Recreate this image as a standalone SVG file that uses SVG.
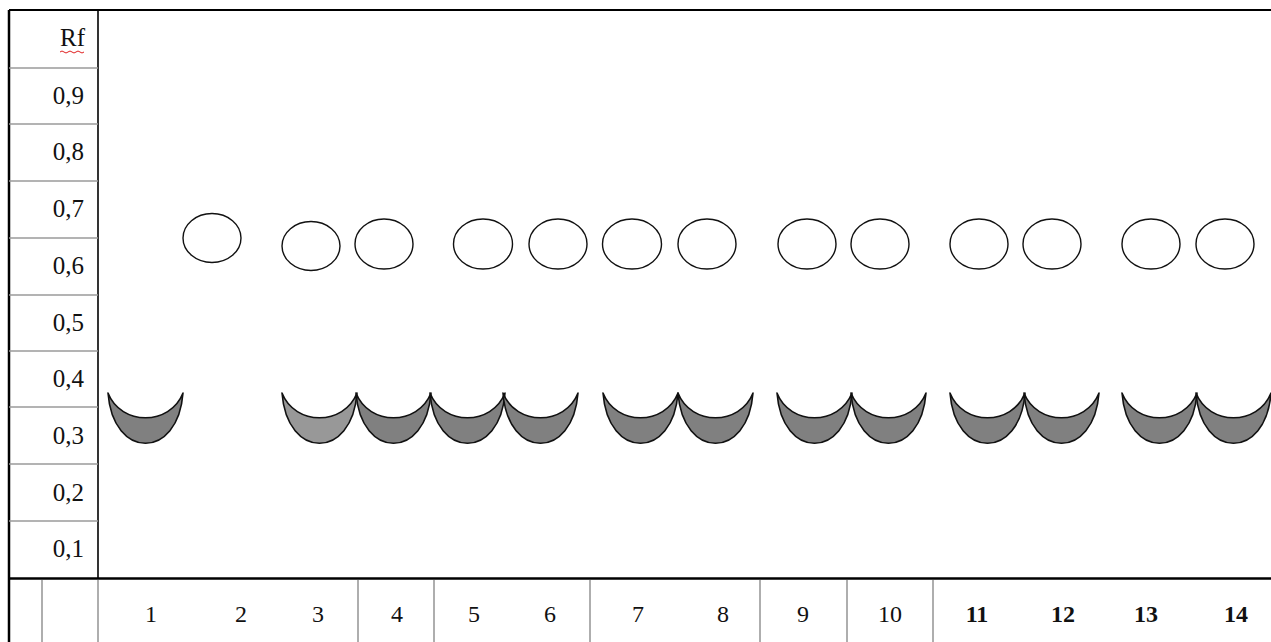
<svg xmlns="http://www.w3.org/2000/svg" width="1271" height="642" viewBox="0 0 1271 642">
<style>
.bk{stroke:#000;fill:none}
.gr{stroke:#9a9a9a;stroke-width:1.6;fill:none}
.lab{font-family:"Liberation Serif","Times New Roman",serif;font-size:25px;fill:#111}
.num{font-family:"Liberation Serif","Times New Roman",serif;font-size:24px;fill:#111;text-anchor:middle}
.b{font-weight:bold}
.spot{fill:#fff;stroke:#111;stroke-width:1.4}
.cr{fill:#808080;stroke:#111;stroke-width:1.6;stroke-linejoin:round}
</style>
<defs>
<path id="cres" d="M0,0 C5,67 70,67 75,0 C62,33 13,33 0,0 Z"/>
</defs>
<rect width="1271" height="642" fill="#fff"/>
<g id="grid">
<line class="bk" x1="9" y1="10" x2="1271" y2="10" stroke-width="2"/>
<line class="bk" x1="9" y1="10" x2="9" y2="642" stroke-width="2.5"/>
<line class="bk" x1="98" y1="10" x2="98" y2="579" stroke-width="1.6" stroke="#222"/>
<line class="bk" x1="9" y1="578.5" x2="1271" y2="578.5" stroke-width="2.6"/>
<g class="gr">
<line x1="9" y1="68" x2="98" y2="68"/>
<line x1="9" y1="124" x2="98" y2="124"/>
<line x1="9" y1="181" x2="98" y2="181"/>
<line x1="9" y1="238" x2="98" y2="238"/>
<line x1="9" y1="295" x2="98" y2="295"/>
<line x1="9" y1="351" x2="98" y2="351"/>
<line x1="9" y1="407" x2="98" y2="407"/>
<line x1="9" y1="464" x2="98" y2="464"/>
<line x1="9" y1="521" x2="98" y2="521"/>
<line x1="42" y1="580" x2="42" y2="642"/>
<line x1="98" y1="580" x2="98" y2="642"/>
<line x1="358" y1="580" x2="358" y2="642"/>
<line x1="434" y1="580" x2="434" y2="642"/>
<line x1="590" y1="580" x2="590" y2="642"/>
<line x1="760" y1="580" x2="760" y2="642"/>
<line x1="847" y1="580" x2="847" y2="642"/>
<line x1="933" y1="580" x2="933" y2="642"/>
</g>
</g>
<g id="axis" class="lab" text-anchor="end">
<text x="85" y="46">Rf</text>
<text x="84" y="104">0,9</text>
<text x="84" y="160">0,8</text>
<text x="84" y="217">0,7</text>
<text x="84" y="274">0,6</text>
<text x="84" y="331">0,5</text>
<text x="84" y="387">0,4</text>
<text x="84" y="444">0,3</text>
<text x="84" y="501">0,2</text>
<text x="84" y="557">0,1</text>
</g>
<path id="spell" d="M60,52 q2,-2 4,0 t4,0 t4,0 t4,0 t4,0 t4,0" stroke="#e02020" stroke-width="1" fill="none"/>
<g id="lane1"><use href="#cres" class="cr" transform="translate(108,393)"/><text class="num" x="151" y="622">1</text></g>
<g id="lane2"><ellipse class="spot" cx="212" cy="238" rx="29" ry="24.5"/><text class="num" x="241" y="622">2</text></g>
<g id="lane3"><ellipse class="spot" cx="311" cy="246" rx="29" ry="24.5"/><use href="#cres" class="cr" style="fill:#989898" transform="translate(282,393)"/><text class="num" x="318" y="622">3</text></g>
<g id="lane4"><ellipse class="spot" cx="384" cy="244" rx="29" ry="25"/><use href="#cres" class="cr" transform="translate(356,393)"/><text class="num" x="397" y="622">4</text></g>
<g id="lane5"><ellipse class="spot" cx="483" cy="244" rx="29.5" ry="25"/><use href="#cres" class="cr" transform="translate(430,393)"/><text class="num" x="474" y="622">5</text></g>
<g id="lane6"><ellipse class="spot" cx="558" cy="244" rx="29" ry="25"/><use href="#cres" class="cr" transform="translate(503,393)"/><text class="num" x="550" y="622">6</text></g>
<g id="lane7"><ellipse class="spot" cx="632" cy="244" rx="29.5" ry="25"/><use href="#cres" class="cr" transform="translate(603,393)"/><text class="num" x="638" y="622">7</text></g>
<g id="lane8"><ellipse class="spot" cx="707" cy="244" rx="29" ry="25"/><use href="#cres" class="cr" transform="translate(678,393)"/><text class="num" x="723" y="622">8</text></g>
<g id="lane9"><ellipse class="spot" cx="807" cy="244" rx="29" ry="25"/><use href="#cres" class="cr" transform="translate(777,393)"/><text class="num" x="803" y="622">9</text></g>
<g id="lane10"><ellipse class="spot" cx="880" cy="244" rx="29" ry="25"/><use href="#cres" class="cr" transform="translate(851,393)"/><text class="num" x="890" y="622">10</text></g>
<g id="lane11"><ellipse class="spot" cx="979" cy="244" rx="29" ry="25"/><use href="#cres" class="cr" transform="translate(950,393)"/><text class="num b" x="977" y="622">11</text></g>
<g id="lane12"><ellipse class="spot" cx="1052" cy="244" rx="29" ry="25"/><use href="#cres" class="cr" transform="translate(1024,393)"/><text class="num b" x="1063" y="622">12</text></g>
<g id="lane13"><ellipse class="spot" cx="1151" cy="244" rx="29" ry="25"/><use href="#cres" class="cr" transform="translate(1122,393)"/><text class="num b" x="1146" y="622">13</text></g>
<g id="lane14"><ellipse class="spot" cx="1225" cy="244" rx="29" ry="25"/><use href="#cres" class="cr" transform="translate(1196,393)"/><text class="num b" x="1236" y="622">14</text></g>
<g id="connectors"/>
</svg>
